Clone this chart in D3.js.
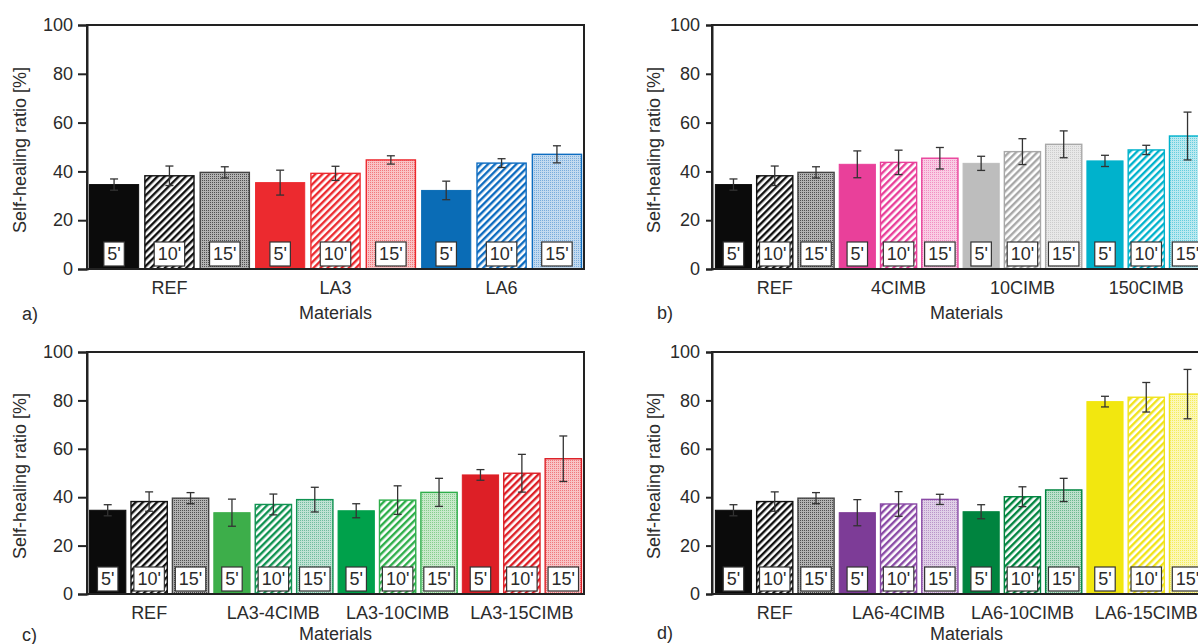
<!DOCTYPE html>
<html>
<head>
<meta charset="utf-8">
<script src="https://cdn.jsdelivr.net/npm/d3@7"></script>
<style>
  html, body { margin: 0; padding: 0; background: #fff; }
  svg { display: block; }
</style>
</head>
<body>
<svg id="chart" width="1198" height="644"></svg>
<script>
// ---- data -------------------------------------------------------------
const times = ["5'", "10'", "15'"];
const yTicks = [0, 20, 40, 60, 80, 100];

// reference material, shared by all four panels
const refMean = [34.6, 38.2, 39.6];
const refErr  = [2.3, 4.0, 2.3];

const aGroups = ["REF", "LA3", "LA6"];
const aMean = [refMean, [35.4, 39.2, 44.7], [32.2, 43.4, 47.0]];
const aErr  = [refErr,  [5.1, 2.9, 1.7],    [3.8, 1.8, 3.5]];

const bGroups = ["REF", "4CIMB", "10CIMB", "150CIMB"];
const bMean = [refMean, [42.9, 43.7, 45.4], [43.3, 48.1, 51.1], [44.3, 48.8, 54.5]];
const bErr  = [refErr,  [5.5, 5.0, 4.4],    [2.9, 5.3, 5.5],    [2.3, 1.9, 9.8]];

const cGroups = ["REF", "LA3-4CIMB", "LA3-10CIMB", "LA3-15CIMB"];
const cMean = [refMean, [33.6, 37.0, 39.0], [34.4, 38.8, 42.0], [49.2, 49.9, 55.9]];
const cErr  = [refErr,  [5.6, 4.3, 5.1],    [2.9, 5.9, 5.8],    [2.2, 7.8, 9.4]];

const dGroups = ["REF", "LA6-4CIMB", "LA6-10CIMB", "LA6-15CIMB"];
const dMean = [refMean, [33.6, 37.2, 39.1], [34.0, 40.2, 43.0], [79.5, 81.3, 82.6]];
const dErr  = [refErr,  [5.4, 5.1, 2.1],    [2.9, 4.1, 4.8],    [2.2, 6.1, 10.2]];

// ---- styling ----------------------------------------------------------
// colour per group: [solid (5'), hatch (10'), dots (15')]
const palette = {
  "REF":        ["#0b0b0b", "#111111", "#1a1a1a"],
  "LA3":        ["#ec2a2f", "#ec2a2f", "#ec3a3f"],
  "LA6":        ["#0a6cb6", "#0d6cc0", "#3a86cc"],
  "4CIMB":      ["#e9409a", "#e9409a", "#ec5aa8"],
  "10CIMB":     ["#bdbdbd", "#a8a8a8", "#b4b4b4"],
  "150CIMB":    ["#00b2cc", "#00b2cc", "#1fb8d0"],
  "LA3-4CIMB":  ["#3dae4a", "#119352", "#2e9f70"],
  "LA3-10CIMB": ["#00a14b", "#2eae4a", "#4cb855"],
  "LA3-15CIMB": ["#dd1f26", "#dd1f26", "#e83a40"],
  "LA6-4CIMB":  ["#7d3c97", "#8a4aa6", "#9a64b0"],
  "LA6-10CIMB": ["#00843f", "#00843f", "#2a9a5a"],
  "LA6-15CIMB": ["#f2e70f", "#f0e31c", "#f2e70f"]
};

const FONT = "'Liberation Sans', Arial, Helvetica, sans-serif";
const TEXT = "#2b2b2b";
const LINE = "#222222";

const svg = d3.select("#chart");
const defs = svg.append("defs");

const panels = [
  { key: "a", groups: aGroups, mean: aMean, err: aErr,
    x0: 87, x1: 584, y0: 25, y1: 269, pin: 0.094, pout: 0.036,
    tick: 9, tickPad: 5, ylabX: 26, titleDx: 0, letter: [22, 320] },
  { key: "b", groups: bGroups, mean: bMean, err: bErr,
    x0: 712, x1: 1209, y0: 25, y1: 269, pin: 0.1, pout: 0.07,
    tick: 6, tickPad: 6, ylabX: 660, titleDx: 6, letter: [657, 319] },
  { key: "c", groups: cGroups, mean: cMean, err: cErr,
    x0: 87, x1: 584, y0: 352, y1: 594, pin: 0.1, pout: 0.05,
    tick: 9, tickPad: 5, ylabX: 26, titleDx: 0, letter: [22, 641] },
  { key: "d", groups: dGroups, mean: dMean, err: dErr,
    x0: 712, x1: 1209, y0: 352, y1: 594, pin: 0.1, pout: 0.07,
    tick: 6, tickPad: 6, ylabX: 660, titleDx: 6, letter: [657, 639] }
];

// ---- fill patterns ----------------------------------------------------
function hatchPattern(id, color) {
  const p = defs.append("pattern")
    .attr("id", id).attr("patternUnits", "userSpaceOnUse")
    .attr("width", 5).attr("height", 5)
    .attr("patternTransform", "rotate(45)");
  p.append("rect").attr("width", 5).attr("height", 5).attr("fill", "#fff");
  p.append("rect").attr("x", 0).attr("y", 0).attr("width", 2.4).attr("height", 5).attr("fill", color);
}
function dotPattern(id, color) {
  const p = defs.append("pattern")
    .attr("id", id).attr("patternUnits", "userSpaceOnUse")
    .attr("width", 2).attr("height", 2);
  p.append("rect").attr("width", 2).attr("height", 2).attr("fill", "#fff");
  p.append("rect").attr("width", 2).attr("height", 2).attr("fill", color).attr("fill-opacity", 0.3);
  p.append("rect").attr("width", 1).attr("height", 1).attr("fill", color).attr("fill-opacity", 0.55);
}

// ---- one panel --------------------------------------------------------
function drawPanel(cfg) {
  const g = svg.append("g").attr("class", "panel-" + cfg.key);

  const bars = [];
  cfg.groups.forEach((grp, gi) => {
    times.forEach((t, ti) => {
      bars.push({ grp, gi, ti, t, v: cfg.mean[gi][ti], e: cfg.err[gi][ti], id: grp + "|" + t });
    });
  });

  const x = d3.scaleBand()
    .domain(bars.map(d => d.id))
    .range([cfg.x0, cfg.x1])
    .paddingInner(cfg.pin)
    .paddingOuter(cfg.pout);
  const y = d3.scaleLinear().domain([0, 100]).range([cfg.y1, cfg.y0]);

  // patterns for this panel
  cfg.groups.forEach((grp, gi) => {
    const col = palette[grp];
    hatchPattern(`h-${cfg.key}-${gi}`, col[1]);
    dotPattern(`d-${cfg.key}-${gi}`, grp === "REF" ? "#000" : col[2]);
  });

  const fillOf = d => {
    const col = palette[d.grp];
    if (d.ti === 0) return col[0];
    if (d.ti === 1) return `url(#h-${cfg.key}-${d.gi})`;
    return `url(#d-${cfg.key}-${d.gi})`;
  };
  const strokeOf = d => {
    const col = palette[d.grp];
    if (d.grp === "REF" && d.ti === 2) return "#444";
    return col[Math.min(d.ti, 1)];
  };

  // bars
  g.append("g").selectAll("rect").data(bars).join("rect")
    .attr("x", d => x(d.id) + 0.5)
    .attr("y", d => y(d.v))
    .attr("width", x.bandwidth() - 1)
    .attr("height", d => y(0) - y(d.v))
    .attr("fill", fillOf)
    .attr("stroke", strokeOf)
    .attr("stroke-width", d => d.ti === 0 ? 1 : 1.4);

  // duration labels in boxes
  const lab = g.append("g").selectAll("g").data(bars).join("g")
    .attr("transform", d => `translate(${x(d.id) + x.bandwidth() / 2},${y(0) - 15})`);
  lab.append("text")
    .attr("text-anchor", "middle")
    .attr("dy", "0.36em")
    .attr("font-family", FONT)
    .attr("font-size", 18)
    .attr("fill", TEXT)
    .text(d => d.t)
    .each(function () {
      const bb = this.getBBox();
      d3.select(this.parentNode).insert("rect", "text")
        .attr("x", -bb.width / 2 - 3.5)
        .attr("y", -12)
        .attr("width", bb.width + 7)
        .attr("height", 24)
        .attr("fill", "#fff")
        .attr("stroke", "#333")
        .attr("stroke-width", 1.2);
    });

  // error bars
  const eb = g.append("g").attr("stroke", "#333").attr("stroke-width", 1.3)
    .selectAll("g").data(bars).join("g")
    .attr("transform", d => `translate(${x(d.id) + x.bandwidth() / 2},0)`);
  eb.append("line").attr("y1", d => y(d.v + d.e)).attr("y2", d => y(d.v - d.e));
  eb.append("line").attr("x1", -4).attr("x2", 4).attr("y1", d => y(d.v + d.e)).attr("y2", d => y(d.v + d.e));
  eb.append("line").attr("x1", -4).attr("x2", 4).attr("y1", d => y(d.v - d.e)).attr("y2", d => y(d.v - d.e));

  // frame (top and right), bottom and left axes
  g.append("rect")
    .attr("x", cfg.x0).attr("y", cfg.y0)
    .attr("width", cfg.x1 - cfg.x0).attr("height", cfg.y1 - cfg.y0)
    .attr("fill", "none").attr("stroke", LINE).attr("stroke-width", 2);

  const yAxis = d3.axisLeft(y).tickValues(yTicks).tickSize(cfg.tick).tickPadding(cfg.tickPad);
  const ya = g.append("g").attr("transform", `translate(${cfg.x0},0)`).call(yAxis);
  ya.select(".domain").attr("stroke", LINE).attr("stroke-width", 2);
  ya.selectAll(".tick line").attr("stroke", LINE).attr("stroke-width", 2);
  ya.selectAll(".tick text")
    .attr("font-family", FONT).attr("font-size", 18).attr("fill", TEXT);

  // group names under the bars
  const groupCenter = gi => {
    const first = x(cfg.groups[gi] + "|" + times[0]);
    const last = x(cfg.groups[gi] + "|" + times[times.length - 1]) + x.bandwidth();
    return (first + last) / 2;
  };
  g.append("g").selectAll("text").data(cfg.groups).join("text")
    .attr("x", (d, i) => groupCenter(i))
    .attr("y", cfg.y1 + 25)
    .attr("text-anchor", "middle")
    .attr("font-family", FONT).attr("font-size", 18).attr("fill", TEXT)
    .text(d => d);

  // axis titles
  g.append("text")
    .attr("x", (cfg.x0 + cfg.x1) / 2 + cfg.titleDx)
    .attr("y", Math.min(cfg.y1 + 50, 640))
    .attr("text-anchor", "middle")
    .attr("font-family", FONT).attr("font-size", 18).attr("fill", TEXT)
    .text("Materials");

  g.append("text")
    .attr("transform", `translate(${cfg.ylabX},${(cfg.y0 + cfg.y1) / 2 + 3}) rotate(-90)`)
    .attr("text-anchor", "middle")
    .attr("font-family", FONT).attr("font-size", 18).attr("fill", TEXT)
    .text("Self-healing ratio [%]");

  // panel letter
  g.append("text")
    .attr("x", cfg.letter[0]).attr("y", cfg.letter[1])
    .attr("font-family", FONT).attr("font-size", 18).attr("fill", TEXT)
    .text(cfg.key + ")");
}

panels.forEach(drawPanel);
</script>
</body>
</html>
